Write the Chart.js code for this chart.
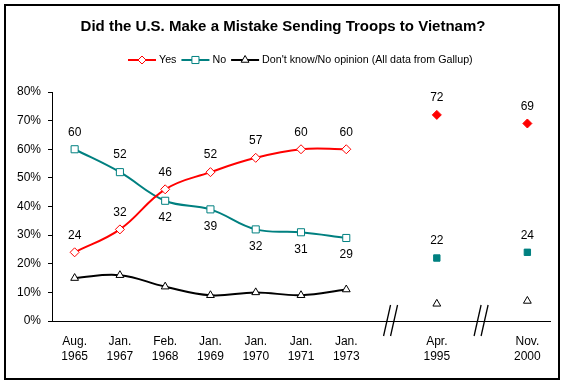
<!DOCTYPE html>
<html>
<head>
<meta charset="utf-8">
<title>Did the U.S. Make a Mistake Sending Troops to Vietnam?</title>
<script src="https://cdn.jsdelivr.net/npm/chart.js@4.4.0/dist/chart.umd.min.js"></script>
<style>
  html, body { margin: 0; padding: 0; background: #fff; }
  canvas { display: block; }
</style>
</head>
<body>
<canvas id="vietnamChart" width="566" height="383"></canvas>
<script>
// Survey dates ('' = axis break between the Vietnam-era polls and later ones)
const surveyDates = ["Aug. 1965", "Jan. 1967", "Feb. 1968", "Jan. 1969", "Jan. 1970", "Jan. 1971", "Jan. 1973", "", "Apr. 1995", "", "Nov. 2000"];
const yesPct = [24, 32, 46, 52, 57, 60, 60, null, 72, null, 69];
const noPct = [60, 52, 42, 39, 32, 31, 29, null, 22, null, 24];
const dontKnowPct = [15, 16, 12, 9, 10, 9, 11, null, 6, null, 7];
const yesLabelSide = ["above", "above", "above", "above", "above", "above", "above", null, "above", null, "above"];
const noLabelSide = ["above", "above", "below", "below", "below", "below", "below", null, "above", null, "above"];
const trendCount = 7; // first 7 polls are joined by a line

const RED = "#ff0000";
const TEAL = "#008080";
const BLACK = "#000000";
const FONT = "Arial, 'Liberation Sans', sans-serif";

const trend = arr => arr.map((v, i) => (i < trendCount ? v : null));
const later = arr => arr.map((v, i) => (i >= trendCount ? v : null));

// Draw a marker like the ones on the chart (used by the legend)
function drawMarker(ctx, style, x, y, r, stroke, fill) {
    ctx.save();
    ctx.beginPath();
    if (style === "rectRot") {
        ctx.moveTo(x, y - r); ctx.lineTo(x + r, y); ctx.lineTo(x, y + r); ctx.lineTo(x - r, y);
    } else if (style === "rect") {
        const h = r * Math.SQRT1_2;
        ctx.rect(x - h, y - h, 2 * h, 2 * h);
    } else {
        ctx.moveTo(x, y - r);
        ctx.lineTo(x + r * Math.sin(2 * Math.PI / 3), y - r * Math.cos(2 * Math.PI / 3));
        ctx.lineTo(x + r * Math.sin(4 * Math.PI / 3), y - r * Math.cos(4 * Math.PI / 3));
    }
    ctx.closePath();
    ctx.fillStyle = fill;
    ctx.fill();
    ctx.lineWidth = 1;
    ctx.strokeStyle = stroke;
    ctx.stroke();
    ctx.restore();
}

const framePlugin = {
    id: "frame",
    beforeDraw(chart) {
        const ctx = chart.ctx;
        ctx.save();
        ctx.fillStyle = "#fff";
        ctx.fillRect(0, 0, chart.width, chart.height);
        ctx.strokeStyle = BLACK;
        ctx.lineWidth = 2;
        ctx.strokeRect(5, 5, 554, 374);
        ctx.restore();
    },
    afterDraw(chart) {
        const ctx = chart.ctx;
        ctx.save();
        // Title
        ctx.fillStyle = BLACK;
        ctx.font = "bold 15px " + FONT;
        ctx.textAlign = "center";
        ctx.textBaseline = "middle";
        ctx.fillText("Did the U.S. Make a Mistake Sending Troops to Vietnam?", 283, 27);

        // Legend
        const items = [
            { text: "Yes", color: RED, style: "rectRot", r: 4 },
            { text: "No", color: TEAL, style: "rect", r: 5 },
            { text: "Don't know/No opinion (All data from Gallup)", color: BLACK, style: "triangle", r: 4.5 },
        ];
        ctx.font = "10.7px " + FONT;
        ctx.textAlign = "left";
        let x = 128;
        const y = 60;
        items.forEach(it => {
            ctx.strokeStyle = it.color;
            ctx.lineWidth = 2;
            ctx.beginPath();
            ctx.moveTo(x, y);
            ctx.lineTo(x + 28, y);
            ctx.stroke();
            drawMarker(ctx, it.style, x + 14, y, it.r, it.color, "#fff");
            ctx.fillStyle = BLACK;
            ctx.fillText(it.text, x + 31, y);
            x += 31 + ctx.measureText(it.text).width + 5;
        });

        // Axis break marks
        const xs = chart.scales.x;
        const y0 = chart.chartArea.bottom;
        ctx.strokeStyle = BLACK;
        ctx.lineWidth = 1.3;
        surveyDates.forEach((d, i) => {
            if (d) return;
            const px = xs.getPixelForValue(i);
            [-1, 6].forEach(off => {
                ctx.beginPath();
                ctx.moveTo(px + off, y0 - 16);
                ctx.lineTo(px + off - 7, y0 + 15);
                ctx.stroke();
            });
        });

        // Value labels
        ctx.font = "12px " + FONT;
        ctx.textAlign = "center";
        ctx.fillStyle = BLACK;
        chart.data.datasets.forEach((ds, di) => {
            if (!ds.labelSide) return;
            const meta = chart.getDatasetMeta(di);
            meta.data.forEach((pt, i) => {
                const v = ds.data[i];
                const side = ds.labelSide[i];
                if (v == null || !side) return;
                ctx.fillText(String(v), pt.x, side === "above" ? pt.y - 17 : pt.y + 17);
            });
        });
        ctx.restore();
    },
};

const ctx = document.getElementById("vietnamChart").getContext("2d");

new Chart(ctx, {
    type: "line",
    data: {
        labels: surveyDates.map(d => (d ? d.split(" ") : "")),
        datasets: [
            {
                label: "Yes",
                data: trend(yesPct),
                labelSide: yesLabelSide,
                borderColor: RED,
                borderWidth: 2,
                tension: 0.4,
                pointStyle: "rectRot",
                pointRadius: 4.5,
                pointBorderWidth: 1,
                pointBackgroundColor: "#fff",
                pointBorderColor: RED,
            },
            {
                label: "No",
                data: trend(noPct),
                labelSide: noLabelSide,
                borderColor: TEAL,
                borderWidth: 2,
                tension: 0.4,
                pointStyle: "rect",
                pointRadius: 5,
                pointBorderWidth: 1,
                pointBackgroundColor: "#fff",
                pointBorderColor: TEAL,
            },
            {
                label: "Don't know/No opinion",
                data: trend(dontKnowPct),
                borderColor: BLACK,
                borderWidth: 2,
                tension: 0.4,
                pointStyle: "triangle",
                pointRadius: 4.5,
                pointBorderWidth: 1,
                pointBackgroundColor: "#fff",
                pointBorderColor: BLACK,
            },
            {
                label: "Yes (later)",
                data: later(yesPct),
                labelSide: yesLabelSide,
                showLine: false,
                pointStyle: "rectRot",
                pointRadius: 4.5,
                pointBackgroundColor: RED,
                pointBorderColor: RED,
            },
            {
                label: "No (later)",
                data: later(noPct),
                labelSide: noLabelSide,
                showLine: false,
                pointStyle: "rect",
                pointRadius: 4.5,
                pointBackgroundColor: TEAL,
                pointBorderColor: TEAL,
            },
            {
                label: "Don't know (later)",
                data: later(dontKnowPct),
                showLine: false,
                pointStyle: "triangle",
                pointRadius: 4.5,
                pointBorderWidth: 1,
                pointBackgroundColor: "#fff",
                pointBorderColor: BLACK,
            },
        ],
    },
    options: {
        responsive: false,
        animation: false,
        devicePixelRatio: 1,
        layout: { padding: { top: 92, left: 0, right: 16, bottom: 0 } },
        plugins: {
            legend: { display: false },
            title: { display: false },
            tooltip: { enabled: false },
        },
        scales: {
            x: {
                offset: true,
                afterFit: s => { s.height = 62; },
                grid: { display: true, drawOnChartArea: false, drawTicks: false },
                border: { display: true, color: BLACK, width: 1 },
                ticks: {
                    autoSkip: false,
                    maxRotation: 0,
                    padding: 13,
                    color: BLACK,
                    font: { family: FONT, size: 12, lineHeight: 1.25 },
                },
            },
            y: {
                min: 0,
                max: 80,
                afterFit: s => { s.width = 52; },
                grid: { drawOnChartArea: false, drawTicks: true, tickLength: 4, color: BLACK },
                border: { display: true, color: BLACK, width: 1 },
                ticks: {
                    stepSize: 10,
                    padding: 7,
                    color: BLACK,
                    font: { family: FONT, size: 12 },
                    callback: v => v + "%",
                },
            },
        },
    },
    plugins: [framePlugin],
});
</script>
</body>
</html>
